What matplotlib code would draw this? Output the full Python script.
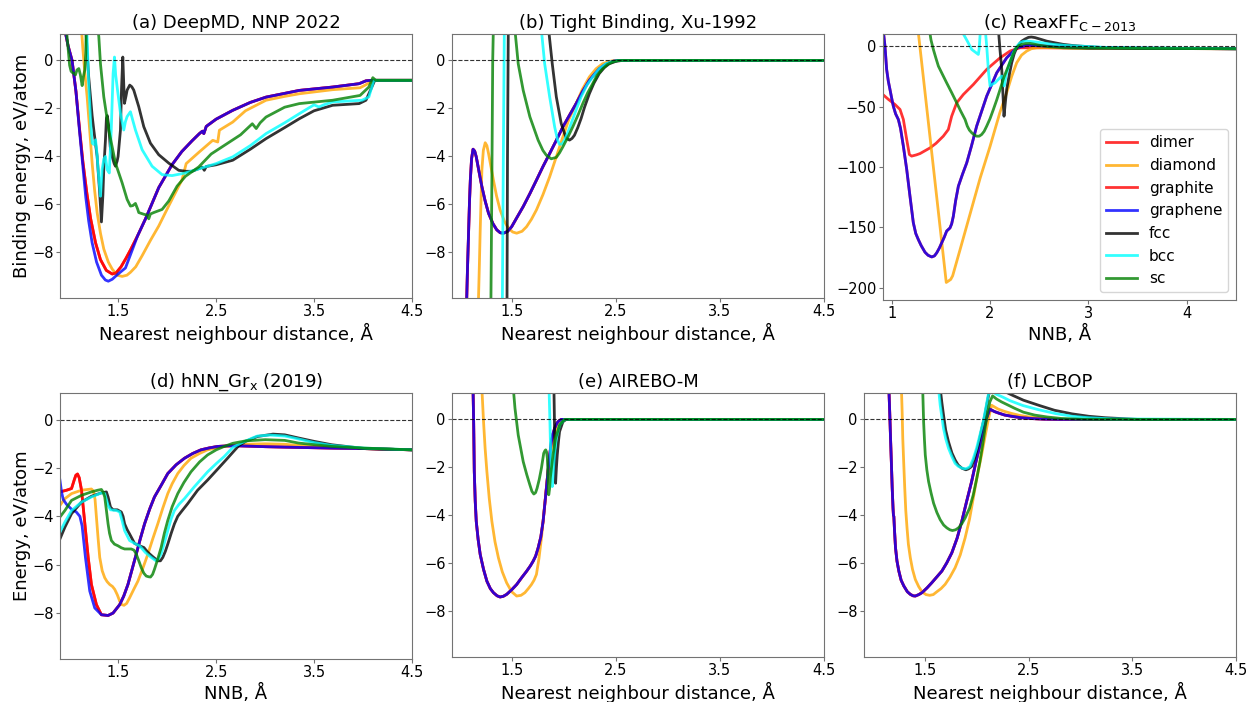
import matplotlib
matplotlib.use("Agg")
import matplotlib.pyplot as plt

labels = ["dimer", "diamond", "graphite", "graphene", "fcc", "bcc", "sc"]
colors = ["red", "orange", "red", "blue", "black", "cyan", "green"]

# ---------------- (a) DeepMD ----------------
a_graphene_x = [0.95, 0.99, 1.03, 1.07, 1.105, 1.14, 1.17, 1.20, 1.235, 1.28, 1.33, 1.37, 1.40, 1.44, 1.50, 1.575,
                1.626, 1.70, 1.78, 1.915, 2.05, 2.15, 2.255, 2.33, 2.36, 2.375, 2.40, 2.50, 2.67, 2.85, 3.01, 3.35,
                3.69, 3.96, 4.03, 4.09, 4.5]
a_graphene_y = [1.4, 0.6, 0.0, -1.3, -2.9, -4.4, -5.7, -6.7, -7.6, -8.4, -8.95, -9.15, -9.2, -9.12, -8.9, -8.65,
                -8.1, -7.3, -6.6, -5.3, -4.35, -3.8, -3.35, -3.05, -2.95, -3.05, -2.75, -2.45, -2.08, -1.75, -1.53,
                -1.25, -1.11, -0.97, -0.85, -0.83, -0.83]
a_graphite_x = [0.95, 0.99, 1.03, 1.07, 1.105, 1.14, 1.18, 1.22, 1.27, 1.32, 1.38, 1.44, 1.48, 1.53, 1.58, 1.626,
                1.70, 1.78, 1.915, 2.05, 2.15, 2.255, 2.33, 2.36, 2.375, 2.40, 2.50, 2.67, 2.85, 3.01, 3.35, 3.69,
                3.96, 4.03, 4.09, 4.5]
a_graphite_y = [1.4, 0.6, 0.0, -1.3, -2.8, -4.2, -5.5, -6.6, -7.6, -8.3, -8.75, -8.9, -8.85, -8.6, -8.25, -7.9,
                -7.3, -6.6, -5.3, -4.35, -3.8, -3.35, -3.05, -2.95, -3.05, -2.75, -2.45, -2.08, -1.75, -1.53, -1.25,
                -1.11, -0.97, -0.85, -0.83, -0.83]
a_diamond_x = [1.125, 1.14, 1.16, 1.184, 1.21, 1.235, 1.26, 1.286, 1.32, 1.354, 1.40, 1.439, 1.49, 1.541, 1.59,
               1.626, 1.68, 1.745, 1.83, 1.915, 2.0, 2.051, 2.153, 2.195, 2.33, 2.466, 2.517, 2.534, 2.67, 2.8,
               3.01, 3.2, 3.35, 3.69, 3.97, 4.06, 4.11, 4.5]
a_diamond_y = [1.4, 0.5, -0.5, -1.52, -2.9, -4.28, -5.4, -6.34, -7.2, -7.86, -8.4, -8.69, -8.95, -9.0, -8.95,
               -8.83, -8.6, -8.14, -7.5, -6.9, -6.2, -5.79, -4.97, -4.3, -3.81, -3.33, -3.4, -2.91, -2.57, -2.1,
               -1.66, -1.5, -1.39, -1.22, -1.14, -0.95, -0.83, -0.83]
a_fcc_x = [1.17, 1.185, 1.20, 1.218, 1.235, 1.252, 1.286, 1.31, 1.33, 1.345, 1.354, 1.371, 1.381, 1.39, 1.405,
           1.42, 1.439, 1.46, 1.473, 1.49, 1.50, 1.524, 1.535, 1.548, 1.556, 1.565, 1.58, 1.592, 1.619, 1.64, 1.66,
           1.711, 1.762, 1.83, 1.915, 2.017, 2.119, 2.19, 2.255, 2.33, 2.36, 2.38, 2.40, 2.5, 2.67, 2.85, 3.01,
           3.2, 3.35, 3.5, 3.69, 3.96, 4.03, 4.09, 4.12, 4.5]
a_fcc_y = [1.4, 0.3, -0.7, -1.52, -2.3, -2.9, -4.0, -5.38, -6.73, -5.6, -4.5, -3.31, -2.4, -2.3, -2.76,
           -3.6, -4.0, -4.3, -4.41, -4.2, -4.0, -2.9, -1.2, 0.14, -0.8, -1.79, -1.5, -1.24, -1.03, -1.1, -1.24,
           -1.93, -2.76, -3.45, -3.93, -4.28, -4.58, -4.62, -4.62, -4.5, -4.45, -4.58, -4.42, -4.35, -4.16, -3.7,
           -3.26, -2.8, -2.43, -2.1, -1.87, -1.8, -1.66, -1.11, -0.83, -0.83]
a_bcc_x = [1.18, 1.20, 1.22, 1.235, 1.25, 1.27, 1.285, 1.296, 1.31, 1.32, 1.337, 1.355, 1.371, 1.388, 1.41, 1.43,
           1.449, 1.463, 1.475, 1.49, 1.524, 1.558, 1.575, 1.592, 1.626, 1.65, 1.677, 1.745, 1.847, 1.949, 2.051,
           2.187, 2.323, 2.5, 2.67, 2.85, 3.01, 3.2, 3.35, 3.5, 3.55, 3.6, 3.69, 3.99, 4.06, 4.11, 4.5]
a_bcc_y = [1.4, -1.0, -2.6, -3.45, -3.5, -3.31, -3.9, -4.55, -5.2, -5.66, -4.55, -4.1, -4.0, -4.55, -4.69, -2.9,
           -0.55, 0.14, -0.6, -1.1, -2.2, -2.9, -2.55, -2.34, -2.14, -2.5, -2.9, -3.72, -4.41, -4.76, -4.8,
           -4.69, -4.52, -4.3, -4.02, -3.55, -3.05, -2.6, -2.22, -1.85, -1.94, -1.85, -1.73, -1.66, -1.52, -0.83,
           -0.83]
a_sc_x = [0.97, 0.99, 1.005, 1.02, 1.031, 1.05, 1.065, 1.08, 1.099, 1.115, 1.133, 1.145, 1.16, 1.17, 1.175, 1.29,
          1.303, 1.32, 1.354, 1.405, 1.473, 1.541, 1.592, 1.626, 1.65, 1.677, 1.70, 1.711, 1.762, 1.80, 1.813, 1.83,
          1.864, 1.949, 2.017, 2.102, 2.187, 2.323, 2.45, 2.6, 2.75, 2.87, 2.91, 2.95, 3.01, 3.2, 3.35, 3.69, 3.97,
          4.06, 4.1, 4.13, 4.5]
a_sc_y = [1.4, 0.5, -0.2, -0.45, -0.5, -0.55, -0.6, -0.4, -0.34, -0.6, -1.05, -0.7, -0.4, 0.3, 1.4, 1.4,
          1.0, -0.14, -1.52, -2.9, -4.28, -5.1, -5.79, -6.07, -6.05, -5.96, -6.2, -6.34, -6.41, -6.45, -6.6, -6.4,
          -6.34, -6.21, -5.86, -5.24, -4.83, -4.44, -3.9, -3.5, -3.1, -2.64, -2.84, -2.6, -2.36, -1.95, -1.8,
          -1.66, -1.46, -1.11, -0.72, -0.83, -0.83]

# ---------------- (b) Tight Binding ----------------
b_graphene_x = [1.065, 1.075, 1.087, 1.095, 1.103, 1.115, 1.129, 1.145, 1.16, 1.185, 1.214, 1.245, 1.278, 1.32,
                1.357, 1.39, 1.42, 1.46, 1.5, 1.55, 1.611, 1.675, 1.738, 1.8, 1.865, 1.93, 1.992, 2.06, 2.119,
                2.18, 2.246, 2.30, 2.341, 2.39, 2.437, 2.48, 2.53, 4.5]
b_graphene_y = [-10.5, -8.8, -7.06, -5.9, -4.99, -4.1, -3.7, -3.78, -4.02, -4.6, -5.26, -5.85, -6.37, -6.8,
                -7.06, -7.18, -7.2, -7.13, -6.93, -6.55, -6.09, -5.55, -4.99, -4.43, -3.88, -3.32, -2.77, -2.25,
                -1.8, -1.3, -0.83, -0.55, -0.35, -0.2, -0.1, -0.03, 0.0, 0.0]
b_diamond_x = [1.178, 1.19, 1.198, 1.206, 1.214, 1.228, 1.246, 1.262, 1.278, 1.30, 1.325, 1.355, 1.389, 1.43,
               1.468, 1.51, 1.548, 1.60, 1.643, 1.69, 1.738, 1.80, 1.865, 1.93, 1.992, 2.05, 2.119, 2.18, 2.246,
               2.31, 2.373, 2.44, 2.5, 4.5]
b_diamond_y = [-10.5, -8.5, -7.06, -5.8, -4.57, -3.75, -3.43, -3.55, -3.88, -4.4, -4.99, -5.65, -6.23, -6.7,
               -6.99, -7.15, -7.2, -7.12, -6.93, -6.62, -6.23, -5.6, -4.85, -4.0, -3.19, -2.45, -1.8, -1.2, -0.69,
               -0.35, -0.14, -0.04, 0.0, 0.0]
b_fcc_x = [1.455, 1.46, 1.468, 1.85, 1.856, 1.89, 1.929, 1.976, 2.024, 2.056, 2.08, 2.103, 2.135, 2.167, 2.2,
           2.246, 2.29, 2.341, 2.39, 2.437, 2.5, 2.563, 4.5]
b_fcc_y = [-10.5, -4.0, 1.5, 1.5, 1.25, -0.14, -1.52, -2.63, -3.25, -3.32, -3.25, -3.12, -2.8, -2.42, -1.95,
           -1.39, -0.95, -0.55, -0.3, -0.14, -0.04, 0.0, 0.0]
b_bcc_x = [1.41, 1.42, 1.43, 1.78, 1.786, 1.817, 1.865, 1.913, 1.94, 1.96, 1.985, 2.008, 2.04, 2.071, 2.12,
           2.167, 2.22, 2.278, 2.34, 2.405, 2.47, 2.53, 4.5]
b_bcc_y = [-10.5, -4.0, 1.5, 1.5, 1.25, -0.14, -1.52, -2.77, -3.3, -3.5, -3.48, -3.32, -3.0, -2.63, -2.05,
           -1.52, -1.05, -0.69, -0.35, -0.14, -0.04, 0.0, 0.0]
b_sc_x = [1.300, 1.31, 1.318, 1.325, 1.525, 1.532, 1.563, 1.611, 1.675, 1.754, 1.80, 1.833, 1.88, 1.929, 1.96,
          1.992, 2.04, 2.087, 2.14, 2.183, 2.23, 2.278, 2.32, 2.373, 2.42, 2.468, 2.52, 2.563, 4.5]
b_sc_y = [-10.5, -5.0, 0.0, 1.5, 1.5, 1.25, -0.14, -1.25, -2.35, -3.32, -3.75, -3.95, -4.1, -4.04, -3.85,
          -3.6, -3.2, -2.77, -2.25, -1.8, -1.35, -0.97, -0.62, -0.35, -0.17, -0.07, -0.01, 0.0, 0.0]

# ---------------- (c) ReaxFF ----------------
c_dimer_x = [0.91, 0.966, 1.034, 1.085, 1.119, 1.153, 1.18, 1.203, 1.25, 1.288, 1.34, 1.39, 1.45, 1.525, 1.576,
             1.61, 1.661, 1.729, 1.831, 1.966, 2.102, 2.203, 2.305, 2.508, 3.0, 4.5]
c_dimer_y = [-40, -44, -48.3, -52.4, -60.7, -77.3, -89.7, -91, -90, -88.9, -86.5, -84.2, -80.5, -74.5, -69,
             -58, -46.9, -40, -31.7, -19.3, -9.7, -4.1, -1.4, -1.4, -1.8, -2.2]
c_graphene_x = [0.905, 0.932, 0.949, 0.966, 0.983, 1.0, 1.017, 1.04, 1.068, 1.09, 1.119, 1.153, 1.186, 1.22,
                1.245, 1.271, 1.30, 1.339, 1.37, 1.407, 1.435, 1.458, 1.485, 1.508, 1.535, 1.559, 1.593, 1.61,
                1.627, 1.65, 1.678, 1.72, 1.763, 1.81, 1.864, 1.966, 2.068, 2.169, 2.271, 2.373, 2.576, 3.0, 4.5]
c_graphene_y = [20, 0, -19.3, -29, -35.9, -43, -49.7, -56, -60.7, -68, -82.8, -102, -124, -146, -155, -160,
                -165, -170.5, -173, -174.4, -173.5, -171, -167, -162.8, -158, -153, -150.4, -147, -140.7, -128,
                -115.9, -106, -96.6, -83, -66.2, -41.4, -22.1, -9.7, -1.4, 0.6, 0.0, -1.5, -2.2]
c_diamond_x = [1.27, 1.555, 1.60, 1.62, 1.70, 1.80, 1.90, 2.0, 2.1, 2.169, 2.22, 2.271, 2.32, 2.373, 2.42,
               2.475, 2.6, 3.0, 4.5]
c_diamond_y = [12, -195.5, -193, -190, -167, -138, -109, -83, -55, -38.6, -25, -13.8, -7.5, -4.1, -2.2, -1.4,
               -1.2, -1.8, -2.2]
c_fcc_x = [2.08, 2.085, 2.10, 2.119, 2.13, 2.142, 2.155, 2.169, 2.195, 2.22, 2.245, 2.271, 2.30, 2.322, 2.355,
           2.39, 2.42, 2.458, 2.52, 2.576, 2.66, 2.746, 2.83, 2.915, 3.1, 3.5, 4.5]
c_fcc_y = [20, 13.8, -2, -19.3, -38, -58, -47, -35.9, -24, -13.8, -6.5, -1.4, 2.0, 4.1, 5.8, 7.2, 7.5, 7.0,
           5.5, 4.1, 2.7, 1.4, 0.6, 0.0, -1.0, -1.8, -2.2]
c_bcc_x = [1.70, 1.722, 1.77, 1.814, 1.85, 1.881, 1.89, 1.898, 1.905, 1.95, 1.966, 1.985, 2.0, 2.025, 2.051,
           2.085, 2.119, 2.135, 2.142, 2.155, 2.169, 2.2, 2.237, 2.27, 2.305, 2.34, 2.373, 2.42, 2.475, 2.56,
           2.644, 2.78, 2.915, 3.2, 4.5]
c_bcc_y = [18, 11, 4, -2.8, -5, -6.9, -2, 8.3, 15, 15, 0, -22, -33, -31.5, -30.4, -27.5, -24.8, -28, -33, -28,
           -22, -13.5, -5.5, -0.5, 2.8, 3.9, 4.1, 3.8, 3.3, 2.3, 1.4, 0.5, 0.0, -1.2, -2.2]
c_sc_x = [1.375, 1.383, 1.40, 1.424, 1.45, 1.475, 1.52, 1.559, 1.61, 1.661, 1.70, 1.746, 1.769, 1.79, 1.814,
          1.84, 1.864, 1.89, 1.915, 1.94, 1.966, 2.0, 2.034, 2.068, 2.102, 2.14, 2.186, 2.22, 2.254, 2.29, 2.322,
          2.36, 2.407, 2.45, 2.508, 2.6, 2.746, 3.0, 4.5]
c_sc_y = [20, 13.8, 5, -2.8, -10, -16.6, -24, -30.4, -38.5, -46.9, -53.5, -60.7, -66.2, -69.5, -71.7, -73.5,
          -74.5, -74.5, -73.1, -70.5, -66.2, -60, -52.4, -44.5, -35.9, -26, -16.6, -9.5, -2.8, 0.3, 1.4, 2.1,
          2.2, 1.6, 0.6, -0.5, -1.4, -1.8, -2.2]

# ---------------- (d) hNN_Gr_x ----------------
d_graphene_x = [0.903, 0.92, 0.937, 0.97, 1.02, 1.07, 1.107, 1.13, 1.164, 1.208, 1.259, 1.327, 1.395, 1.446,
                1.514, 1.555, 1.598, 1.64, 1.683, 1.725, 1.768, 1.82, 1.869, 1.94, 2.005, 2.09, 2.175, 2.26,
                2.344, 2.43, 2.514, 2.6, 2.683, 2.85, 3.0, 3.34, 3.7, 4.02, 4.5]
d_graphene_y = [-2.5, -3.0, -3.3, -3.5, -3.7, -3.82, -4.0, -4.4, -5.7, -7.09, -7.79, -8.07, -8.1, -8.0, -7.65,
                -7.3, -6.82, -6.2, -5.56, -4.92, -4.31, -3.7, -3.2, -2.7, -2.23, -1.87, -1.6, -1.4, -1.25, -1.17,
                -1.11, -1.09, -1.08, -1.1, -1.12, -1.15, -1.18, -1.2, -1.25]
d_graphite_x = [0.903, 0.971, 1.022, 1.049, 1.066, 1.083, 1.1, 1.124, 1.158, 1.192, 1.225, 1.276, 1.327, 1.395,
                1.446, 1.514, 1.555, 1.598, 1.64, 1.683, 1.725, 1.768, 1.82, 1.869, 1.94, 2.005, 2.09, 2.175, 2.26,
                2.344, 2.43, 2.514, 2.6, 2.683, 2.85, 3.0, 3.34, 3.7, 4.02, 4.5]
d_graphite_y = [-2.99, -2.92, -2.85, -2.5, -2.3, -2.25, -2.4, -2.92, -4.31, -5.7, -6.82, -7.65, -8.07, -8.1,
                -8.0, -7.65, -7.3, -6.82, -6.2, -5.56, -4.92, -4.31, -3.7, -3.2, -2.7, -2.23, -1.87, -1.6, -1.4,
                -1.25, -1.17, -1.11, -1.09, -1.08, -1.1, -1.12, -1.15, -1.18, -1.2, -1.25]
d_diamond_x = [0.903, 0.954, 1.022, 1.124, 1.225, 1.245, 1.262, 1.276, 1.293, 1.31, 1.335, 1.361, 1.385, 1.412,
               1.44, 1.463, 1.49, 1.514, 1.535, 1.558, 1.585, 1.615, 1.66, 1.7, 1.75, 1.802, 1.85, 1.903, 1.955,
               2.005, 2.05, 2.107, 2.17, 2.242, 2.33, 2.412, 2.5, 2.581, 2.67, 2.8, 3.0, 3.2, 3.34, 3.68, 4.02, 4.5]
d_diamond_y = [-3.55, -3.27, -3.06, -2.92, -2.87, -2.95, -3.3, -4.03, -4.9, -5.7, -6.25, -6.54, -6.7, -6.82,
               -6.9, -7.02, -7.25, -7.51, -7.65, -7.68, -7.6, -7.37, -7.0, -6.68, -6.15, -5.56, -4.95, -4.31, -3.65,
               -3.06, -2.65, -2.23, -1.9, -1.6, -1.4, -1.25, -1.17, -1.11, -1.07, -1.02, -1.0, -1.02, -1.07, -1.12,
               -1.2, -1.25]
d_fcc_x = [0.903, 0.954, 1.022, 1.124, 1.225, 1.327, 1.378, 1.395, 1.42, 1.446, 1.49, 1.53, 1.548, 1.564, 1.59,
           1.615, 1.666, 1.717, 1.761, 1.802, 1.852, 1.903, 1.93, 1.954, 1.98, 2.005, 2.04, 2.073, 2.107, 2.141,
           2.208, 2.31, 2.412, 2.514, 2.615, 2.67, 2.73, 2.8, 2.92, 3.08, 3.2, 3.34, 3.5, 3.68, 3.85, 4.02, 4.5]
d_fcc_y = [-4.94, -4.45, -3.89, -3.41, -3.17, -3.03, -2.99, -3.2, -3.62, -3.73, -3.73, -3.82, -4.0, -4.31, -4.55,
           -4.73, -5.12, -5.22, -5.29, -5.49, -5.67, -5.84, -5.84, -5.7, -5.45, -5.15, -4.7, -4.31, -4.0, -3.82,
           -3.48, -2.92, -2.5, -2.05, -1.6, -1.35, -1.08, -0.9, -0.7, -0.6, -0.63, -0.76, -0.9, -1.04, -1.12, -1.2,
           -1.25]
d_bcc_x = [0.903, 0.954, 1.022, 1.124, 1.225, 1.327, 1.361, 1.395, 1.42, 1.48, 1.514, 1.54, 1.564, 1.615, 1.666,
           1.717, 1.745, 1.775, 1.836, 1.886, 1.91, 1.937, 1.97, 2.005, 2.04, 2.073, 2.12, 2.175, 2.276, 2.412, 2.5,
           2.581, 2.67, 2.75, 2.87, 2.92, 3.05, 3.2, 3.34, 3.5, 3.68, 4.02, 4.5]
d_bcc_y = [-4.66, -4.24, -3.76, -3.41, -3.2, -3.03, -3.06, -3.55, -3.73, -3.76, -3.82, -4.2, -4.59, -5.0, -5.12,
           -5.22, -5.35, -5.49, -5.7, -5.84, -5.75, -5.56, -5.1, -4.59, -4.1, -3.76, -3.5, -3.27, -2.78, -2.16,
           -1.82, -1.53, -1.15, -0.98, -0.76, -0.68, -0.64, -0.68, -0.8, -0.95, -1.07, -1.18, -1.25]
d_sc_x = [0.903, 0.954, 1.022, 1.124, 1.225, 1.29, 1.327, 1.345, 1.361, 1.378, 1.395, 1.41, 1.429, 1.46, 1.497,
          1.53, 1.564, 1.6, 1.632, 1.66, 1.683, 1.71, 1.734, 1.76, 1.785, 1.81, 1.829, 1.85, 1.869, 1.9, 1.937, 1.97,
          2.005, 2.05, 2.107, 2.17, 2.242, 2.33, 2.412, 2.5, 2.581, 2.67, 2.8, 3.0, 3.2, 3.34, 3.68, 4.02, 4.5]
d_sc_y = [-4.03, -3.76, -3.34, -3.13, -2.99, -2.92, -2.89, -3.0, -3.2, -3.75, -4.31, -4.7, -5.0, -5.15, -5.22,
          -5.3, -5.35, -5.35, -5.35, -5.4, -5.56, -5.85, -6.12, -6.35, -6.47, -6.5, -6.51, -6.4, -6.19, -5.8, -5.29,
          -4.7, -4.17, -3.6, -3.06, -2.6, -2.16, -1.75, -1.46, -1.25, -1.11, -0.98, -0.88, -0.83, -0.86, -0.97,
          -1.11, -1.18, -1.25]

# ---------------- (e) AIREBO-M ----------------
e_graphene_x = [1.125, 1.129, 1.135, 1.141, 1.15, 1.16, 1.178, 1.198, 1.23, 1.262, 1.295, 1.325, 1.36, 1.389,
                1.42, 1.452, 1.5, 1.548, 1.595, 1.643, 1.68, 1.706, 1.73, 1.754, 1.78, 1.802, 1.826, 1.849, 1.865,
                1.881, 1.897, 1.913, 1.93, 1.944, 1.976, 4.5]
e_graphene_y = [2.0, 1.29, -0.1, -2.17, -3.4, -4.25, -5.0, -5.63, -6.25, -6.74, -7.05, -7.22, -7.35, -7.4,
                -7.37, -7.29, -7.1, -6.88, -6.6, -6.33, -6.1, -5.91, -5.7, -5.36, -4.9, -4.25, -3.2, -2.17, -1.5,
                -0.93, -0.6, -0.37, -0.2, -0.1, 0.0, 0.0]
e_diamond_x = [1.21, 1.214, 1.23, 1.245, 1.262, 1.285, 1.31, 1.34, 1.373, 1.41, 1.452, 1.5, 1.548, 1.59, 1.627,
               1.66, 1.69, 1.715, 1.738, 1.762, 1.786, 1.805, 1.827, 1.856, 1.897, 1.944, 1.992, 4.5]
e_diamond_y = [2.0, 1.29, -0.1, -1.2, -2.17, -3.3, -4.25, -5.1, -5.77, -6.35, -6.81, -7.18, -7.36, -7.33, -7.22,
               -7.05, -6.88, -6.7, -6.46, -5.8, -4.94, -4.1, -3.14, -1.9, -0.79, -0.24, 0.0, 0.0]
e_fcc_x = [1.903, 1.906, 1.91, 1.913, 1.918, 1.922, 1.93, 1.938, 1.95, 1.96, 1.992, 2.024, 4.5]
e_fcc_y = [2.0, 1.29, 0.2, -0.79, -1.8, -2.66, -2.0, -1.48, -0.9, -0.51, -0.1, 0.0, 0.0]
e_bcc_x = [1.855, 1.859, 1.867, 1.875, 1.883, 1.89, 1.898, 1.906, 1.918, 1.929, 1.96, 2.008, 4.5]
e_bcc_y = [2.0, 1.29, 0.0, -1.48, -2.3, -2.8, -2.3, -1.76, -1.2, -0.79, -0.24, 0.0, 0.0]
e_sc_x = [1.51, 1.516, 1.532, 1.563, 1.611, 1.645, 1.675, 1.695, 1.713, 1.73, 1.744, 1.765, 1.786, 1.808, 1.82,
          1.827, 1.835, 1.843, 1.85, 1.856, 1.864, 1.871, 1.897, 1.922, 1.96, 2.008, 4.5]
e_sc_y = [2.0, 1.29, 0.46, -0.65, -1.76, -2.3, -2.73, -3.0, -3.11, -3.05, -2.87, -2.5, -2.03, -1.41, -1.3, -1.27,
          -1.35, -1.62, -2.4, -3.14, -2.9, -2.45, -1.48, -0.79, -0.24, 0.0, 0.0]

# ---------------- (f) LCBOP ----------------
f_graphene_x = [1.148, 1.152, 1.16, 1.168, 1.176, 1.184, 1.192, 1.196, 1.2, 1.206, 1.216, 1.23, 1.248, 1.27,
                1.296, 1.33, 1.359, 1.385, 1.407, 1.44, 1.471, 1.52, 1.567, 1.615, 1.663, 1.71, 1.759, 1.81, 1.855,
                1.9, 1.95, 1.99, 2.03, 2.065, 2.094, 2.126, 2.15, 2.174, 2.22, 2.27, 2.35, 2.43, 2.55, 2.653, 2.8, 4.5]
f_graphene_y = [2.0, 1.29, 0.3, -0.79, -1.8, -2.86, -3.7, -4.0, -4.05, -4.6, -5.35, -5.9, -6.32, -6.7, -6.94,
                -7.18, -7.29, -7.35, -7.36, -7.3, -7.22, -7.02, -6.8, -6.56, -6.32, -5.98, -5.56, -4.95, -4.25,
                -3.45, -2.59, -1.8, -1.07, -0.45, 0.04, 0.43, 0.37, 0.32, 0.25, 0.18, 0.12, 0.07, 0.03, 0.01, 0.0,
                0.0]
f_diamond_x = [1.27, 1.273, 1.28, 1.286, 1.295, 1.305, 1.315, 1.327, 1.34, 1.359, 1.38, 1.407, 1.44, 1.471,
               1.51, 1.545, 1.58, 1.615, 1.655, 1.695, 1.74, 1.791, 1.84, 1.887, 1.93, 1.966, 2.0, 2.046, 2.08,
               2.11, 2.142, 2.17, 2.206, 2.27, 2.334, 2.41, 2.494, 2.6, 2.749, 2.9, 4.5]
f_diamond_y = [2.0, 1.29, 0.3, -0.79, -1.8, -2.86, -3.8, -4.52, -5.2, -5.77, -6.25, -6.67, -6.97, -7.18, -7.3,
               -7.33, -7.3, -7.18, -7.05, -6.87, -6.58, -6.18, -5.65, -4.94, -4.15, -3.28, -2.45, -1.48, -0.7,
               -0.03, 0.59, 0.52, 0.43, 0.33, 0.25, 0.17, 0.11, 0.06, 0.01, 0.0, 0.0]
f_fcc_x = [1.64, 1.647, 1.663, 1.679, 1.70, 1.727, 1.76, 1.791, 1.82, 1.855, 1.894, 1.92, 1.95, 1.98, 2.014,
           2.045, 2.078, 2.1, 2.117, 2.14, 2.2, 2.347, 2.45, 2.603, 2.75, 2.92, 3.08, 3.24, 3.55, 4.5]
f_fcc_y = [2.0, 1.29, 0.7, 0.18, -0.45, -0.93, -1.4, -1.69, -1.9, -2.03, -2.1, -2.06, -1.96, -1.6, -1.07,
           -0.45, 0.18, 0.7, 1.08, 1.3, 1.3, 1.0, 0.8, 0.58, 0.38, 0.23, 0.13, 0.07, 0.0, 0.0]
f_bcc_x = [1.625, 1.631, 1.647, 1.663, 1.679, 1.70, 1.727, 1.76, 1.791, 1.82, 1.855, 1.887, 1.91, 1.935, 1.965,
           1.998, 2.03, 2.062, 2.086, 2.11, 2.14, 2.187, 2.25, 2.32, 2.443, 2.6, 2.763, 2.92, 3.08, 3.3, 4.5]
f_bcc_y = [2.0, 1.29, 0.59, 0.1, -0.37, -0.8, -1.2, -1.55, -1.83, -1.95, -2.03, -2.06, -2.03, -1.96, -1.65,
           -1.2, -0.65, -0.1, 0.45, 1.01, 1.2, 1.05, 0.93, 0.78, 0.58, 0.4, 0.24, 0.13, 0.07, 0.02, 0.0]
f_sc_x = [1.475, 1.478, 1.487, 1.495, 1.503, 1.518, 1.535, 1.558, 1.583, 1.615, 1.647, 1.68, 1.711, 1.74, 1.765,
          1.795, 1.823, 1.855, 1.887, 1.93, 1.966, 2.0, 2.03, 2.06, 2.084, 2.105, 2.126, 2.152, 2.19, 2.238, 2.3,
          2.366, 2.45, 2.558, 2.68, 2.813, 3.0, 3.13, 4.5]
f_sc_y = [2.0, 1.29, -0.1, -0.85, -1.48, -2.1, -2.59, -3.05, -3.49, -3.88, -4.18, -4.4, -4.52, -4.6, -4.63, -4.6,
          -4.52, -4.35, -4.11, -3.7, -3.14, -2.45, -1.76, -0.95, -0.24, 0.3, 0.73, 0.98, 0.85, 0.73, 0.6, 0.46,
          0.3, 0.18, 0.1, 0.04, 0.01, 0.0, 0.0]

nnd = "Nearest neighbour distance, Å"
panels = [
    dict(title="(a) DeepMD, NNP 2022", xlabel=nnd, ylabel="Binding energy, eV/atom",
         xlim=(0.907, 4.5), ylim=(-9.9, 1.1), xticks=[1.5, 2.5, 3.5, 4.5], yticks=[0, -2, -4, -6, -8],
         curves=[(a_graphite_x, a_graphite_y), (a_diamond_x, a_diamond_y), (a_graphite_x, a_graphite_y),
                 (a_graphene_x, a_graphene_y), (a_fcc_x, a_fcc_y), (a_bcc_x, a_bcc_y), (a_sc_x, a_sc_y)],
         box=(60, 34, 412, 298)),
    dict(title="(b) Tight Binding, Xu-1992", xlabel=nnd, ylabel=None,
         xlim=(0.927, 4.5), ylim=(-9.9, 1.1), xticks=[1.5, 2.5, 3.5, 4.5], yticks=[0, -2, -4, -6, -8],
         curves=[(b_graphene_x, b_graphene_y), (b_diamond_x, b_diamond_y), (b_graphene_x, b_graphene_y),
                 (b_graphene_x, b_graphene_y), (b_fcc_x, b_fcc_y), (b_bcc_x, b_bcc_y), (b_sc_x, b_sc_y)],
         box=(452, 34, 824, 298)),
    dict(title=r"(c) ReaxFF$_{\mathrm{C-2013}}$", xlabel="NNB, Å", ylabel=None,
         xlim=(0.912, 4.5), ylim=(-210, 10), xticks=[1, 2, 3, 4], yticks=[0, -50, -100, -150, -200],
         curves=[(c_dimer_x, c_dimer_y), (c_diamond_x, c_diamond_y), (c_graphene_x, c_graphene_y),
                 (c_graphene_x, c_graphene_y), (c_fcc_x, c_fcc_y), (c_bcc_x, c_bcc_y), (c_sc_x, c_sc_y)],
         box=(883, 34, 1236, 300), legend=True),
    dict(title=r"(d) hNN_Gr$_{\mathrm{x}}$ (2019)", xlabel="NNB, Å", ylabel="Energy, eV/atom",
         xlim=(0.904, 4.5), ylim=(-9.9, 1.1), xticks=[1.5, 2.5, 3.5, 4.5], yticks=[0, -2, -4, -6, -8],
         curves=[(d_graphite_x, d_graphite_y), (d_diamond_x, d_diamond_y), (d_graphite_x, d_graphite_y),
                 (d_graphene_x, d_graphene_y), (d_fcc_x, d_fcc_y), (d_bcc_x, d_bcc_y), (d_sc_x, d_sc_y)],
         box=(60, 393, 412, 659)),
    dict(title="(e) AIREBO-M", xlabel=nnd, ylabel=None,
         xlim=(0.927, 4.5), ylim=(-9.9, 1.1), xticks=[1.5, 2.5, 3.5, 4.5], yticks=[0, -2, -4, -6, -8],
         curves=[(e_graphene_x, e_graphene_y), (e_diamond_x, e_diamond_y), (e_graphene_x, e_graphene_y),
                 (e_graphene_x, e_graphene_y), (e_fcc_x, e_fcc_y), (e_bcc_x, e_bcc_y), (e_sc_x, e_sc_y)],
         box=(452, 393, 824, 657)),
    dict(title="(f) LCBOP", xlabel=nnd, ylabel=None,
         xlim=(0.912, 4.5), ylim=(-9.9, 1.1), xticks=[1.5, 2.5, 3.5, 4.5], yticks=[0, -2, -4, -6, -8],
         curves=[(f_graphene_x, f_graphene_y), (f_diamond_x, f_diamond_y), (f_graphene_x, f_graphene_y),
                 (f_graphene_x, f_graphene_y), (f_fcc_x, f_fcc_y), (f_bcc_x, f_bcc_y), (f_sc_x, f_sc_y)],
         box=(864, 393, 1236, 657)),
]

W, H = 1250, 702
fig = plt.figure(figsize=(W / 100, H / 100), dpi=100)

for p in panels:
    x0, y0, x1, y1 = p["box"]
    ax = fig.add_axes([x0 / W, 1 - y1 / H, (x1 - x0) / W, (y1 - y0) / H])
    for (xs, ys), lab, col in zip(p["curves"], labels, colors):
        ax.plot(xs, ys, color=col, alpha=0.8, lw=2, label=lab)
    ax.axhline(0, color="k", ls="--", lw=0.8, alpha=0.8)
    ax.set_xlim(*p["xlim"])
    ax.set_ylim(*p["ylim"])
    ax.set_xticks(p["xticks"])
    ax.set_yticks(p["yticks"])
    ax.tick_params(labelsize=10.5, color="0.45", length=3, pad=1.5)
    for s in ax.spines.values():
        s.set_color("0.45")
    ax.set_title(p["title"], fontsize=13, pad=4)
    ax.set_xlabel(p["xlabel"], fontsize=13, labelpad=3)
    if p["ylabel"]:
        ax.set_ylabel(p["ylabel"], fontsize=13, labelpad=1)
    if p.get("legend"):
        ax.legend(loc="lower right", fontsize=11)

fig.savefig("out.png", dpi=100)
